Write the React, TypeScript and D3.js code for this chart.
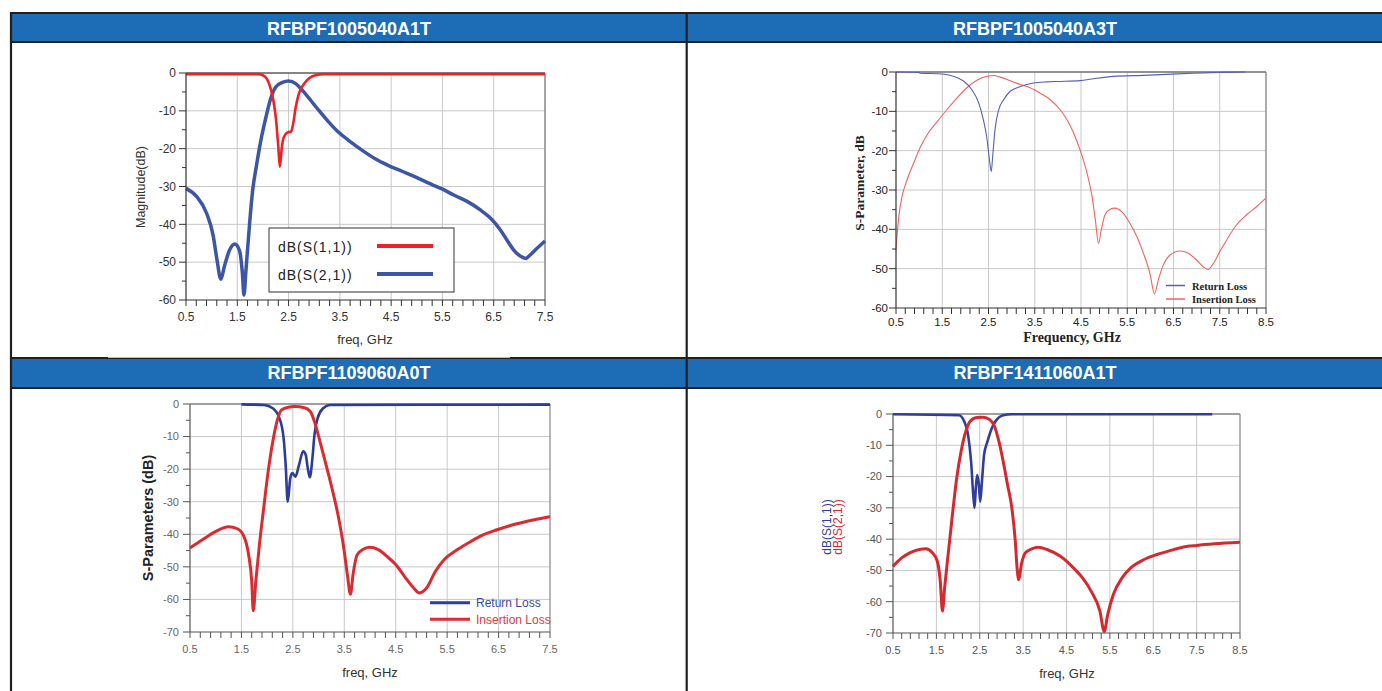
import React from 'react';
import * as d3 from 'd3';

type Pt = [number, number];

// ---- titles & ticks ----
const titles = ['RFBPF1005040A1T', 'RFBPF1005040A3T', 'RFBPF1109060A0T', 'RFBPF1411060A1T'];
const xTicks75 = [0.5, 1.5, 2.5, 3.5, 4.5, 5.5, 6.5, 7.5];
const xTicks85 = [0.5, 1.5, 2.5, 3.5, 4.5, 5.5, 6.5, 7.5, 8.5];
const yTicks60 = [0, -10, -20, -30, -40, -50, -60];
const yTicks70 = [0, -10, -20, -30, -40, -50, -60, -70];

// ---- RFBPF1005040A1T ----
const a1tS11: Pt[] = [[0.5, -0.3], [1.9, -0.3], [2.0, -0.6], [2.12, -2.8], [2.2, -7], [2.25, -11.6], [2.3, -19.5], [2.33, -24.8], [2.37, -19.5], [2.39, -17.8], [2.44, -16.2], [2.5, -15.6], [2.55, -15.5], [2.59, -13.4], [2.64, -9], [2.7, -5.5], [2.83, -2.4], [3.02, -0.6], [3.2, -0.3], [7.5, -0.3]];
const a1tS21: Pt[] = [[0.5, -30.5], [0.71, -32.7], [0.9, -37], [1.03, -43], [1.1, -49], [1.18, -54.5], [1.25, -51], [1.35, -46.8], [1.45, -45.2], [1.54, -46.8], [1.6, -53], [1.63, -58.7], [1.67, -52], [1.74, -39.8], [1.8, -31], [1.87, -24.8], [1.96, -17.8], [2.06, -11.6], [2.15, -6.8], [2.25, -3.7], [2.38, -2.5], [2.5, -2.1], [2.64, -2.8], [2.77, -4.6], [2.93, -7.2], [3.09, -9.9], [3.28, -12.9], [3.47, -15.6], [3.67, -17.8], [3.93, -20.4], [4.18, -22.6], [4.44, -24.4], [4.7, -25.9], [4.96, -27.4], [5.21, -29], [5.47, -30.5], [5.73, -32.3], [5.99, -34], [6.24, -36.2], [6.44, -38.4], [6.63, -41.5], [6.76, -44.2], [6.89, -46.8], [7.02, -48.4], [7.12, -49], [7.21, -48.1], [7.34, -46.4], [7.5, -44.4]];

// ---- RFBPF1005040A3T ----
const a3tReturn: Pt[] = [[0.5, 0], [1.0, -0.1], [1.02, -0.3], [1.5, -0.5], [1.74, -1.1], [1.96, -2.3], [2.14, -4.5], [2.29, -7.9], [2.39, -12.2], [2.46, -16.4], [2.52, -22.3], [2.56, -25.3], [2.59, -21.5], [2.64, -14.7], [2.72, -9.6], [2.83, -7], [2.97, -4.9], [3.19, -3.7], [3.47, -2.8], [3.76, -2.5], [4.05, -2.4], [4.48, -2.2], [4.77, -1.7], [5.2, -1.1], [5.85, -0.85], [6.35, -0.6], [6.93, -0.3], [7.5, -0.1], [8.05, 0]];
const a3tInsertion: Pt[] = [[0.5, -45.3], [0.52, -42], [0.56, -36.8], [0.63, -31.7], [0.74, -27.4], [0.88, -23.2], [1.03, -19], [1.17, -16], [1.39, -12.6], [1.6, -9.6], [1.82, -6.6], [2.03, -4], [2.25, -2.1], [2.47, -1.1], [2.61, -0.9], [2.75, -1.3], [2.97, -2.2], [3.19, -3.2], [3.4, -4], [3.62, -5.4], [3.83, -7], [4.05, -9.6], [4.2, -12.2], [4.34, -15.5], [4.48, -19.8], [4.63, -25.7], [4.74, -31.7], [4.81, -37.6], [4.88, -43.6], [4.93, -40.6], [5.02, -36.3], [5.13, -34.9], [5.23, -34.6], [5.38, -35.5], [5.56, -38.5], [5.71, -41.9], [5.85, -46.1], [5.99, -51.2], [6.09, -56.4], [6.17, -52.9], [6.28, -49.1], [6.42, -46.6], [6.64, -45.5], [6.82, -46.1], [7.0, -47.8], [7.14, -49.5], [7.25, -50.2], [7.36, -48.7], [7.5, -45.7], [7.65, -42.7], [7.86, -38.9], [8.08, -36.3], [8.3, -34.2], [8.5, -32]];

// ---- RFBPF1109060A0T ----
const a0tReturn: Pt[] = [[1.5, -0.1], [1.94, -0.3], [2.11, -1.3], [2.24, -4.4], [2.32, -10.5], [2.36, -18.7], [2.4, -30], [2.45, -22.8], [2.49, -21.2], [2.55, -22.3], [2.62, -18.7], [2.7, -14.5], [2.75, -15.6], [2.79, -19.7], [2.83, -22.5], [2.88, -16.7], [2.92, -9.5], [2.98, -4.4], [3.09, -1.3], [3.22, -0.3], [7.5, -0.2]];
const a0tInsertion: Pt[] = [[0.5, -44.2], [0.74, -41.7], [1.0, -39.1], [1.25, -37.7], [1.42, -38.3], [1.55, -40.7], [1.64, -46.3], [1.7, -54.4], [1.73, -63.5], [1.78, -54.4], [1.85, -43.2], [1.94, -31], [2.02, -20.7], [2.11, -11.5], [2.19, -5.4], [2.28, -1.8], [2.41, -1.0], [2.54, -0.8], [2.71, -1.1], [2.84, -2.3], [2.92, -5.4], [3.01, -10.5], [3.13, -17.7], [3.26, -25.8], [3.39, -35], [3.49, -44.2], [3.56, -52.4], [3.62, -58.4], [3.67, -52.4], [3.75, -46.3], [3.86, -44.7], [3.99, -44], [4.16, -44.7], [4.33, -46.8], [4.5, -49.3], [4.67, -52.9], [4.85, -56.5], [4.96, -58], [5.1, -56.5], [5.27, -51.4], [5.44, -47.8], [5.7, -44.7], [5.96, -42.2], [6.21, -40.1], [6.47, -38.6], [6.73, -37.3], [6.98, -36.3], [7.24, -35.4], [7.5, -34.6]];

// ---- RFBPF1411060A1T ----
const a1tbS11: Pt[] = [[0.5, -0.1], [2.02, -0.4], [2.14, -2.3], [2.23, -6.6], [2.3, -15.1], [2.35, -25.8], [2.38, -30], [2.41, -23.6], [2.44, -19.5], [2.48, -22.6], [2.51, -28], [2.55, -21.7], [2.6, -13], [2.68, -8.7], [2.78, -4.5], [2.89, -1.8], [3.04, -0.4], [3.24, -0.1], [7.86, -0.1]];
const a1tbS21: Pt[] = [[0.5, -48.7], [0.7, -46], [0.91, -44.2], [1.11, -43.3], [1.26, -43.1], [1.41, -44.4], [1.52, -47], [1.59, -53.5], [1.64, -63], [1.69, -55.6], [1.77, -45], [1.87, -32.2], [1.97, -20.4], [2.07, -11.9], [2.18, -5.5], [2.28, -2.3], [2.43, -1.1], [2.58, -1.0], [2.73, -1.8], [2.84, -3.9], [2.94, -8.7], [3.04, -15.1], [3.14, -22.6], [3.24, -30], [3.32, -40.7], [3.36, -49.2], [3.4, -53], [3.46, -48.1], [3.55, -44.4], [3.7, -43.1], [3.85, -42.6], [4.05, -43.3], [4.36, -45.5], [4.66, -49.2], [4.87, -52.4], [5.07, -56.7], [5.27, -63], [5.37, -69.5], [5.45, -64.1], [5.58, -57.7], [5.78, -52.4], [5.98, -49.2], [6.29, -46.5], [6.59, -44.9], [6.9, -43.6], [7.2, -42.5], [7.5, -42], [7.91, -41.5], [8.5, -41]];

const SANS = "'Liberation Sans', Arial, sans-serif";
const SERIF = "'Liberation Serif', 'Times New Roman', serif";

interface Series { data: Pt[]; color: string; width: number; }
interface PanelProps {
    box: { x0: number; x1: number; y0: number; y1: number };
    xTicks: number[];
    yTicks: number[];
    series: Series[];
    tickColor: string;
    tickSize: number;
    yLabelGap: number;
    xLabelGap: number;
    axisColor: string;
    frameColor: string;
    children?: React.ReactNode;
}

const Panel: React.FC<PanelProps> = ({ box, xTicks, yTicks, series, tickColor, tickSize, yLabelGap, xLabelGap, axisColor, frameColor, children }) => {
    const x = d3.scaleLinear().domain([xTicks[0], xTicks[xTicks.length - 1]]).range([box.x0, box.x1]);
    const y = d3.scaleLinear().domain([yTicks[yTicks.length - 1], 0]).range([box.y1, box.y0]);
    const line = d3.line<Pt>().x(d => x(d[0])).y(d => y(d[1])).curve(d3.curveMonotoneX);
    const xMinor = d3.range(xTicks[0], xTicks[xTicks.length - 1] + 1e-6, 0.2);
    const yMinor = d3.range(0, yTicks[yTicks.length - 1] - 1e-6, -5);
    const grid = '#c8c8c8';
    return (
        <g>
            {/* grid */}
            {xTicks.slice(1).map(t => (
                <line key={'gx' + t} x1={x(t)} x2={x(t)} y1={box.y0} y2={box.y1} stroke={grid} strokeWidth={1} />
            ))}
            {yTicks.slice(0, -1).map(t => (
                <line key={'gy' + t} x1={box.x0} x2={box.x1} y1={y(t)} y2={y(t)} stroke={grid} strokeWidth={1} />
            ))}
            {/* top / right frame */}
            <line x1={box.x0} x2={box.x1} y1={box.y0} y2={box.y0} stroke={frameColor} strokeWidth={1.5} />
            <line x1={box.x1} x2={box.x1} y1={box.y0} y2={box.y1} stroke={frameColor} strokeWidth={1} />
            {/* curves */}
            {series.map((s, i) => (
                <path key={'s' + i} d={line(s.data) || ''} fill="none" stroke={s.color} strokeWidth={s.width} strokeLinejoin="round" />
            ))}
            {/* axes */}
            <line x1={box.x0} x2={box.x0} y1={box.y0} y2={box.y1} stroke={axisColor} strokeWidth={1.2} />
            <line x1={box.x0} x2={box.x1} y1={box.y1} y2={box.y1} stroke={axisColor} strokeWidth={1.2} />
            {xMinor.map(t => (
                <line key={'mx' + t} x1={x(t)} x2={x(t)} y1={box.y1} y2={box.y1 + 6} stroke={axisColor} strokeWidth={1} />
            ))}
            {yMinor.map(t => (
                <line key={'my' + t} x1={box.x0 - (t % 10 === 0 ? 7 : 4)} x2={box.x0} y1={y(t)} y2={y(t)} stroke={axisColor} strokeWidth={1} />
            ))}
            {xTicks.map(t => (
                <text key={'lx' + t} x={x(t)} y={box.y1 + xLabelGap} textAnchor="middle" fontFamily={SANS} fontSize={tickSize} fill={tickColor}>
                    {d3.format('.1f')(t)}
                </text>
            ))}
            {yTicks.map(t => (
                <text key={'ly' + t} x={box.x0 - yLabelGap} y={y(t)} dy="0.35em" textAnchor="end" fontFamily={SANS} fontSize={tickSize} fill={tickColor}>
                    {String(t)}
                </text>
            ))}
            {children}
        </g>
    );
};

const App: React.FC = () => {
    const dark = '#231f20';
    const head = '#1c6db5';
    const midX = 686.7;
    return (
        <div style={{ position: 'absolute', left: 0, top: 0 }}>
            <svg width={1382} height={691} style={{ display: 'block', background: '#fff' }}>
                {/* table */}
                <rect x={11} y={13} width={1371} height={29} fill={head} />
                <rect x={11} y={358} width={1371} height={30} fill={head} />
                <line x1={10} x2={1382} y1={13} y2={13} stroke={dark} strokeWidth={2.2} />
                <line x1={10} x2={1382} y1={42} y2={42} stroke={dark} strokeWidth={2.2} />
                <line x1={10} x2={1382} y1={358} y2={358} stroke={dark} strokeWidth={2.2} />
                <rect x={108} y={356.5} width={402} height={1.2} fill="#fff" />
                <line x1={10} x2={1382} y1={388} y2={388} stroke={dark} strokeWidth={2.2} />
                <line x1={11} x2={11} y1={12} y2={691} stroke={dark} strokeWidth={2.2} />
                <line x1={midX} x2={midX} y1={12} y2={691} stroke={dark} strokeWidth={2.2} />
                {[[349, 34.5, 0], [1035, 34.5, 1], [349, 379, 2], [1035, 379, 3]].map(([cx, cy, i]) => (
                    <text key={'t' + i} x={cx} y={cy} textAnchor="middle" fontFamily={SANS} fontWeight="bold" fontSize={18} fill="#fff">
                        {titles[i]}
                    </text>
                ))}

                {/* RFBPF1005040A1T */}
                <Panel box={{ x0: 186, x1: 545, y0: 73, y1: 300 }} xTicks={xTicks75} yTicks={yTicks60}
                    series={[{ data: a1tS21, color: '#3c55a5', width: 3.5 }, { data: a1tS11, color: '#ee2226', width: 2.6 }]}
                    tickColor="#333" tickSize={12} yLabelGap={10} xLabelGap={21} axisColor="#333" frameColor="#666">
                    <text transform="translate(145,187) rotate(-90)" textAnchor="middle" fontFamily={SANS} fontSize={12.5} fill="#333">Magnitude(dB)</text>
                    <text x={365} y={344} textAnchor="middle" fontFamily={SANS} fontSize={13} fill="#333">freq, GHz</text>
                    <rect x={269} y={228} width={185} height={64} fill="#fff" stroke="#333" strokeWidth={1} />
                    <text x={278} y={252} fontFamily={SANS} fontSize={14} letterSpacing={1} fill="#222">dB(S(1,1))</text>
                    <text x={278} y={280} fontFamily={SANS} fontSize={14} letterSpacing={1} fill="#222">dB(S(2,1))</text>
                    <line x1={377} x2={433} y1={246} y2={246} stroke="#ee2226" strokeWidth={4} />
                    <line x1={377} x2={433} y1={274} y2={274} stroke="#3c55a5" strokeWidth={4} />
                </Panel>

                {/* RFBPF1005040A3T */}
                <Panel box={{ x0: 896, x1: 1266, y0: 72, y1: 308 }} xTicks={xTicks85} yTicks={yTicks60}
                    series={[{ data: a3tInsertion, color: '#f06262', width: 1.1 }, { data: a3tReturn, color: '#5560b5', width: 1.1 }]}
                    tickColor="#222" tickSize={11.5} yLabelGap={8} xLabelGap={18} axisColor="#333" frameColor="#777">
                    <text transform="translate(864,183) rotate(-90)" textAnchor="middle" fontFamily={SERIF} fontWeight="bold" fontSize={13.5} fill="#222">S-Parameter, dB</text>
                    <text x={1072} y={341.5} textAnchor="middle" fontFamily={SERIF} fontWeight="bold" fontSize={14} fill="#222">Frequency, GHz</text>
                    <line x1={1166} x2={1185} y1={285.5} y2={285.5} stroke="#5560b5" strokeWidth={1.5} />
                    <line x1={1166} x2={1185} y1={299} y2={299} stroke="#f06262" strokeWidth={1.5} />
                    <text x={1192} y={289.5} fontFamily={SERIF} fontWeight="bold" fontSize={10.5} fill="#222">Return Loss</text>
                    <text x={1192} y={303} fontFamily={SERIF} fontWeight="bold" fontSize={10.5} fill="#222">Insertion Loss</text>
                </Panel>

                {/* RFBPF1109060A0T */}
                <Panel box={{ x0: 190, x1: 550, y0: 404, y1: 632 }} xTicks={xTicks75} yTicks={yTicks70}
                    series={[{ data: a0tReturn, color: '#2b3c9b', width: 2.6 }, { data: a0tInsertion, color: '#d92b30', width: 3 }]}
                    tickColor="#666" tickSize={11} yLabelGap={11} xLabelGap={21} axisColor="#555" frameColor="#888">
                    <text transform="translate(153,518) rotate(-90)" textAnchor="middle" fontFamily={SANS} fontWeight="bold" fontSize={14.5} fill="#222">S-Parameters (dB)</text>
                    <text x={370} y={677} textAnchor="middle" fontFamily={SANS} fontSize={13} fill="#333">freq, GHz</text>
                    <line x1={430} x2={470} y1={602.7} y2={602.7} stroke="#2b3c9b" strokeWidth={3} />
                    <line x1={430} x2={470} y1={619.3} y2={619.3} stroke="#d92b30" strokeWidth={3} />
                    <text x={476} y={607} fontFamily={SANS} fontSize={12} fill="#3a4aa8">Return Loss</text>
                    <text x={476} y={623.5} fontFamily={SANS} fontSize={12} fill="#d93a3e">Insertion Loss</text>
                </Panel>

                {/* RFBPF1411060A1T */}
                <Panel box={{ x0: 893, x1: 1240, y0: 414, y1: 633 }} xTicks={xTicks85} yTicks={yTicks70}
                    series={[{ data: a1tbS11, color: '#2e3e9a', width: 2.6 }, { data: a1tbS21, color: '#d42a2f', width: 3 }]}
                    tickColor="#555" tickSize={11} yLabelGap={11} xLabelGap={21} axisColor="#555" frameColor="#888">
                    <text transform="translate(831,527) rotate(-90)" textAnchor="middle" fontFamily={SANS} fontSize={12} fill="#2e3e9a">dB(S(1,1))</text>
                    <text transform="translate(842,527) rotate(-90)" textAnchor="middle" fontFamily={SANS} fontSize={12} fill="#d42a2f">dB(S(2,1))</text>
                    <text x={1067} y={678} textAnchor="middle" fontFamily={SANS} fontSize={13} fill="#333">freq, GHz</text>
                </Panel>
            </svg>
        </div>
    );
};

export default App;
